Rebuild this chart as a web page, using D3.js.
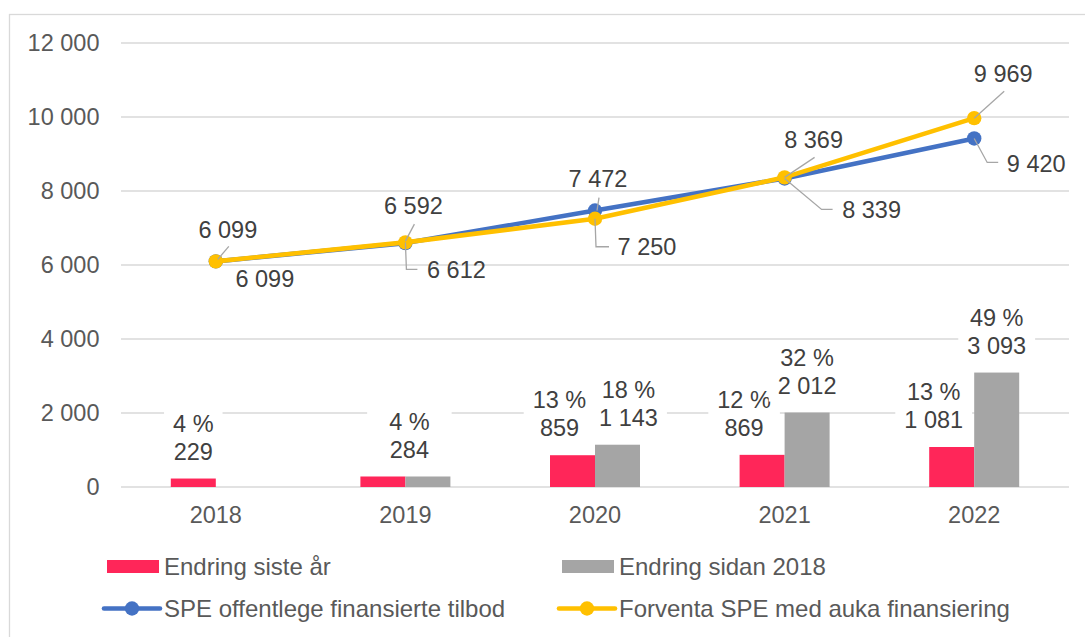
<!DOCTYPE html>
<html>
<head>
<meta charset="utf-8">
<script src="https://cdn.jsdelivr.net/npm/d3@7"></script>
<style>
  html, body { margin: 0; padding: 0; background: #ffffff; }
  svg text { font-family: "Liberation Sans", Arial, sans-serif; }
</style>
</head>
<body>
<svg id="chart" width="1085" height="637"></svg>
<script>
// Categories and series
const years = ["2018", "2019", "2020", "2021", "2022"];
const changeLastYear = [229, 284, 859, 869, 1081];
const changeLastYearPct = [4, 4, 13, 12, 13];
const changeSince2018 = [0, 284, 1143, 2012, 3093];
const changeSince2018Pct = [null, 4, 18, 32, 49];
const speOffentleg = [6099, 6592, 7472, 8339, 9420];
const speForventa = [6099, 6612, 7250, 8369, 9969];
const yTickValues = [0, 2000, 4000, 6000, 8000, 10000, 12000];

const seriesNames = {
  lastYear: "Endring siste år",
  since2018: "Endring sidan 2018",
  offentleg: "SPE offentlege finansierte tilbod",
  forventa: "Forventa SPE med auka finansiering"
};

const colors = {
  lastYear: "#FF2659",
  since2018: "#A5A5A5",
  offentleg: "#4472C4",
  forventa: "#FFC000",
  grid: "#D9D9D9",
  axisText: "#595959",
  labelText: "#404040",
  leader: "#A6A6A6"
};

// Label layout: horizontal nudges of the bar labels [last year, since 2018]
const barLabelNudge = [[0, 0], [4, 4], [-13, 11], [-18, 0], [-18, 0]];
// Line label layout relative to each point: text centre and leader path
const offentlegLabelLayout = [
  { dx: 12, dy: -32, leader: [[13, -15], [2, -2]] },
  { dx: 8, dy: -37, leader: [[9, -19], [0, -2]] },
  { dx: 3, dy: -32, leader: [[4, -13], [2, 0]] },
  { dx: 87, dy: 31, leader: [[0, 0], [37, 31], [48, 31]] },
  { dx: 62, dy: 25, leader: [[0, 0], [13, 24], [24, 24]] }
];
const forventaLabelLayout = [
  { dx: 49, dy: 17, leader: null },
  { dx: 51, dy: 27, leader: [[0, 0], [1, 27], [12, 27]] },
  { dx: 52, dy: 28, leader: [[0, 0], [1, 28], [14, 28]] },
  { dx: 29, dy: -38, leader: [[30, -20], [0, 0]] },
  { dx: 29, dy: -44, leader: [[30, -27], [0, 0]] }
];

const fontSize = 23.5;
const legendFontSize = 24;
const fmt = d3.formatLocale({ decimal: ",", thousands: " ", grouping: [3], currency: ["", ""] }).format(",d");

const svg = d3.select("#chart");

// Outer chart frame
svg.append("rect")
  .attr("x", 9.5).attr("y", 14.5)
  .attr("width", 1090).attr("height", 640)
  .attr("fill", "none").attr("stroke", colors.grid).attr("stroke-width", 1.3);

const plot = { left: 121, right: 1069, top: 43, bottom: 487 };

const x = d3.scaleBand().domain(years).range([plot.left, plot.right]).padding(0);
const y = d3.scaleLinear().domain([0, 12000]).range([plot.bottom, plot.top]);
const groupWidth = 90;
const xInner = d3.scaleBand().domain(["lastYear", "since2018"]).range([0, groupWidth]).padding(0);
const cx = yr => x(yr) + x.bandwidth() / 2;

// Gridlines
svg.append("g")
  .selectAll("line")
  .data(yTickValues)
  .join("line")
  .attr("x1", plot.left).attr("x2", plot.right)
  .attr("y1", d => y(d)).attr("y2", d => y(d))
  .attr("stroke", colors.grid).attr("stroke-width", 1.4);

// Y axis labels
const yAxis = d3.axisLeft(y).tickValues(yTickValues).tickFormat(fmt).tickSize(0).tickPadding(0);
const yAxisG = svg.append("g").attr("transform", `translate(${99.5},0)`).call(yAxis);
yAxisG.select(".domain").remove();
yAxisG.selectAll("text")
  .attr("fill", colors.axisText)
  .style("font-size", fontSize + "px")
  .style("font-family", '"Liberation Sans", Arial, sans-serif');

// X axis labels
const xAxis = d3.axisBottom(x).tickSize(0).tickPadding(0);
const xAxisG = svg.append("g").attr("transform", `translate(0,${plot.bottom})`).call(xAxis);
xAxisG.select(".domain").remove();
xAxisG.selectAll("text")
  .attr("fill", colors.axisText)
  .attr("dy", null)
  .attr("y", 36)
  .style("font-size", fontSize + "px")
  .style("font-family", '"Liberation Sans", Arial, sans-serif');

// Bars
const barRows = years.map((yr, i) => ({
  year: yr, i,
  bars: [
    { key: "lastYear", value: changeLastYear[i], pct: changeLastYearPct[i] },
    { key: "since2018", value: changeSince2018[i], pct: changeSince2018Pct[i] }
  ]
}));

const barG = svg.append("g");
barRows.forEach(row => {
  const gx = cx(row.year) - groupWidth / 2;
  barG.selectAll(null)
    .data(row.bars)
    .join("rect")
    .attr("x", d => gx + xInner(d.key))
    .attr("y", d => y(d.value))
    .attr("width", xInner.bandwidth())
    .attr("height", d => y(0) - y(d.value))
    .attr("fill", d => colors[d.key]);
});

// Bar labels (percentage over value) on white boxes
const barLabelG = svg.append("g");
function barLabel(centerX, top, lines, extraPad) {
  const g = barLabelG.append("g");
  const box = g.append("rect").attr("fill", "#ffffff");
  const t1 = g.append("text").attr("x", centerX).attr("y", top - 55).attr("dy", "0.35em")
    .attr("text-anchor", "middle").attr("fill", colors.labelText)
    .style("font-size", fontSize + "px").text(lines[0]);
  const t2 = g.append("text").attr("x", centerX).attr("y", top - 27).attr("dy", "0.35em")
    .attr("text-anchor", "middle").attr("fill", colors.labelText)
    .style("font-size", fontSize + "px").text(lines[1]);
  const w = Math.max(t1.node().getComputedTextLength(), t2.node().getComputedTextLength());
  const pad = 9 + extraPad;
  box.attr("x", centerX - w / 2 - pad).attr("width", w + 2 * pad)
    .attr("y", top - 55 - 16).attr("height", 28 + 32);
}

barRows.forEach(row => {
  const gx = cx(row.year) - groupWidth / 2;
  const [a, b] = row.bars;
  const nudge = barLabelNudge[row.i];
  if (a.value === b.value && a.pct === b.pct) {
    // identical values share one label over the pair
    barLabel(cx(row.year) + nudge[0], y(a.value), [a.pct + " %", fmt(a.value)], 13);
  } else {
    row.bars.forEach((d, k) => {
      if (d.pct == null) return;
      const bx = gx + xInner(d.key) + xInner.bandwidth() / 2;
      barLabel(bx + nudge[k], y(d.value), [d.pct + " %", fmt(d.value)], 0);
    });
  }
});

// Lines with markers
const lineGen = d3.line().x((d, i) => cx(years[i])).y(d => y(d));
function drawSeries(values, color) {
  svg.append("path")
    .datum(values)
    .attr("d", lineGen)
    .attr("fill", "none")
    .attr("stroke", color)
    .attr("stroke-width", 4.6)
    .attr("stroke-linejoin", "round")
    .attr("stroke-linecap", "round");
  svg.append("g").selectAll("circle")
    .data(values)
    .join("circle")
    .attr("cx", (d, i) => cx(years[i]))
    .attr("cy", d => y(d))
    .attr("r", 7.2)
    .attr("fill", color);
}
drawSeries(speOffentleg, colors.offentleg);
drawSeries(speForventa, colors.forventa);

// Line data labels with leader lines
function lineLabels(values, layout) {
  const g = svg.append("g");
  values.forEach((v, i) => {
    const px = cx(years[i]), py = y(v);
    const L = layout[i];
    if (L.leader) {
      g.append("path")
        .attr("d", d3.line()(L.leader.map(p => [px + p[0], py + p[1]])))
        .attr("fill", "none")
        .attr("stroke", colors.leader)
        .attr("stroke-width", 1.3);
    }
    g.append("text")
      .attr("x", px + L.dx).attr("y", py + L.dy).attr("dy", "0.35em")
      .attr("text-anchor", "middle")
      .attr("fill", colors.labelText)
      .style("font-size", fontSize + "px")
      .text(fmt(v));
  });
}
lineLabels(speOffentleg, offentlegLabelLayout);
lineLabels(speForventa, forventaLabelLayout);

// Legend
const legendItems = [
  { key: "lastYear", type: "bar", x: 107, y: 566.5 },
  { key: "since2018", type: "bar", x: 562, y: 566.5 },
  { key: "offentleg", type: "line", x: 104, y: 608.5 },
  { key: "forventa", type: "line", x: 559, y: 608.5 }
];
const legend = svg.append("g");
legendItems.forEach(it => {
  const g = legend.append("g").attr("transform", `translate(${it.x},${it.y})`);
  if (it.type === "bar") {
    g.append("rect").attr("x", 0).attr("y", -6.5).attr("width", 52).attr("height", 13)
      .attr("fill", colors[it.key]);
  } else {
    g.append("line").attr("x1", 0).attr("x2", 56).attr("y1", 0).attr("y2", 0)
      .attr("stroke", colors[it.key]).attr("stroke-width", 4.6).attr("stroke-linecap", "round");
    g.append("circle").attr("cx", 28).attr("cy", 0).attr("r", 7.2).attr("fill", colors[it.key]);
  }
  g.append("text")
    .attr("x", it.type === "bar" ? 57 : 60)
    .attr("y", 0).attr("dy", "0.35em")
    .attr("fill", colors.axisText)
    .style("font-size", legendFontSize + "px")
    .text(seriesNames[it.key]);
});
</script>
</body>
</html>
